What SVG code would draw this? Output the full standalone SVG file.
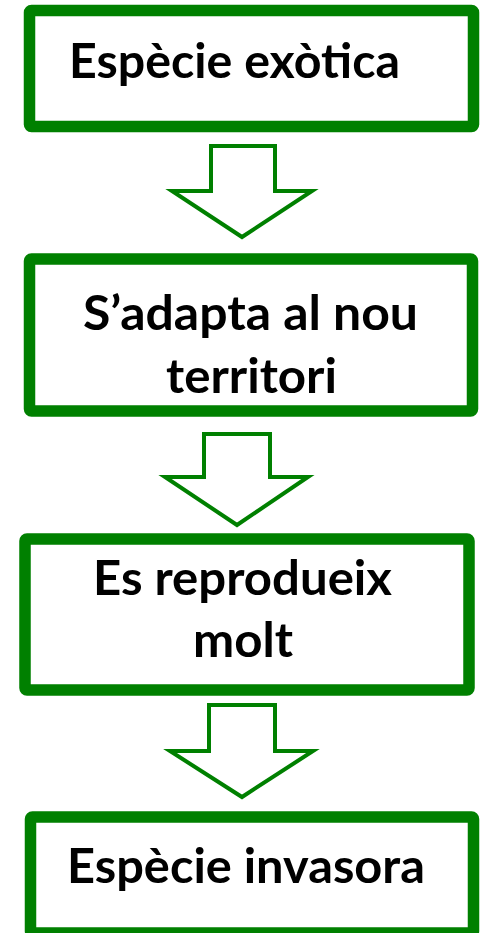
<svg xmlns="http://www.w3.org/2000/svg" width="481" height="933" viewBox="0 0 481 933">
<style>
.box{fill:#fff;stroke:#008000;stroke-width:11.5;stroke-linejoin:round}
.arr{fill:#fff;stroke:#008000;stroke-width:4;stroke-linejoin:miter}
.t{font-family:Lato,"Open Sans","Liberation Sans",sans-serif;font-weight:700;font-size:48px;fill:#000}
</style>
<rect width="481" height="933" fill="#fff"/>
<g id="connectors">
<polygon class="arr" points="211,146 275,146 275,191 312,191 242,237 172,191 211,191"/>
<polygon class="arr" points="204,434 270,434 270,477 308,477 237,525 165,477 204,477"/>
<polygon class="arr" points="209,705 275,705 275,751 313,751 242,797 170,751 209,751"/>
</g>
<g id="n1">
<rect class="box" x="29.5" y="10.5" width="444" height="116" rx="2"/>
<text class="t" x="69" y="78" textLength="331" lengthAdjust="spacingAndGlyphs">Espècie exòtica</text>
</g>
<g id="n2">
<rect class="box" x="29.5" y="259" width="443" height="152" rx="2"/>
<text class="t" x="83" y="330" textLength="335" lengthAdjust="spacingAndGlyphs">S’adapta al nou</text>
<text class="t" x="166" y="393" textLength="171" lengthAdjust="spacingAndGlyphs">territori</text>
</g>
<g id="n3">
<rect class="box" x="25" y="539" width="444" height="151" rx="2"/>
<text class="t" x="93" y="595" textLength="299" lengthAdjust="spacingAndGlyphs">Es reprodueix</text>
<text class="t" x="193" y="657" textLength="100" lengthAdjust="spacingAndGlyphs">molt</text>
</g>
<g id="n4">
<rect class="box" x="30.5" y="817" width="443" height="116" rx="2"/>
<text class="t" x="67" y="883" textLength="358" lengthAdjust="spacingAndGlyphs">Espècie invasora</text>
</g>
</svg>
